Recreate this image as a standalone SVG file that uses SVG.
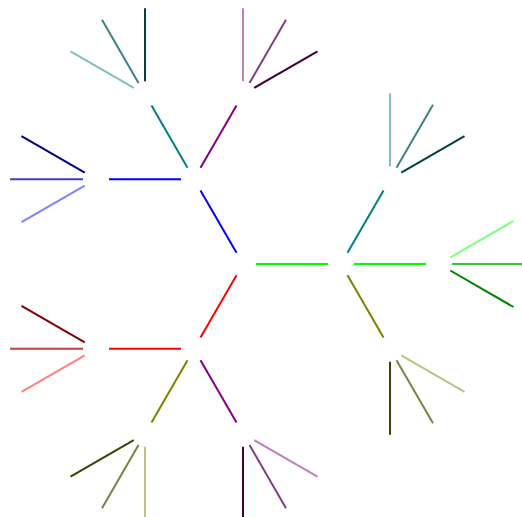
<svg xmlns="http://www.w3.org/2000/svg" width="522" height="517" viewBox="0 0 522 517">
<style>
line{stroke-width:2;fill:none;stroke-linecap:butt}
.lime{stroke:#00ff00}.blue{stroke:#0000ff}.red{stroke:#ff0000}
.teal{stroke:#008080}.purple{stroke:#800080}.olive{stroke:#808000}
.bd{stroke:#000080}.bm{stroke:#4040c0}.bl{stroke:#8080ff}
.td{stroke:#004040}.tm{stroke:#408080}.tl{stroke:#80c0c0}
.pd{stroke:#400040}.pm{stroke:#804080}.pl{stroke:#c080c0}
.gd{stroke:#008000}.gm{stroke:#40c040}.gl{stroke:#80ff80}
.od{stroke:#404000}.om{stroke:#808040}.ol{stroke:#c0c080}
.rd{stroke:#800000}.rm{stroke:#c04040}.rl{stroke:#ff8080}
</style>
<rect width="522" height="517" fill="#ffffff"/>
<g id="connectors">
<g id="root-edges">
<line class="blue" x1="236.5" y1="252.74" x2="200.5" y2="190.39"/>
<line class="lime" x1="256" y1="264" x2="328" y2="264"/>
<line class="red" x1="236.5" y1="275.26" x2="200.5" y2="337.61"/>
</g>
<g id="a-edges">
<line class="blue" x1="181" y1="179.13" x2="109" y2="179.13"/>
<line class="teal" x1="187.5" y1="167.87" x2="151.5" y2="105.52"/>
<line class="purple" x1="200.5" y1="167.87" x2="236.5" y2="105.52"/>
</g>
<g id="b-edges">
<line class="teal" x1="347.5" y1="252.74" x2="383.5" y2="190.39"/>
<line class="lime" x1="354" y1="264" x2="426" y2="264"/>
<line class="olive" x1="347.5" y1="275.26" x2="383.5" y2="337.61"/>
</g>
<g id="c-edges">
<line class="red" x1="181" y1="348.87" x2="109" y2="348.87"/>
<line class="olive" x1="187.5" y1="360.13" x2="151.5" y2="422.48"/>
<line class="purple" x1="200.5" y1="360.13" x2="236.5" y2="422.48"/>
</g>
<g id="leaves-a1">
<line class="bd" x1="84.74" y1="172.63" x2="21.52" y2="136.13"/>
<line class="bm" x1="83" y1="179.13" x2="10" y2="179.13"/>
<line class="bl" x1="84.74" y1="185.63" x2="21.52" y2="222.13"/>
</g>
<g id="leaves-a2">
<line class="tl" x1="133.74" y1="87.76" x2="70.52" y2="51.26"/>
<line class="tm" x1="138.5" y1="83" x2="102" y2="19.78"/>
<line class="td" x1="145" y1="81.26" x2="145" y2="8.26"/>
</g>
<g id="leaves-a3">
<line class="pl" x1="243" y1="81.26" x2="243" y2="8.26"/>
<line class="pm" x1="249.5" y1="83" x2="286" y2="19.78"/>
<line class="pd" x1="254.26" y1="87.76" x2="317.48" y2="51.26"/>
</g>
<g id="leaves-b1">
<line class="tl" x1="390" y1="166.13" x2="390" y2="93.13"/>
<line class="tm" x1="396.5" y1="167.87" x2="433" y2="104.65"/>
<line class="td" x1="401.26" y1="172.63" x2="464.48" y2="136.13"/>
</g>
<g id="leaves-b2">
<line class="gl" x1="450.26" y1="257.5" x2="513.48" y2="221"/>
<line class="gm" x1="452" y1="264" x2="525" y2="264"/>
<line class="gd" x1="450.26" y1="270.5" x2="513.48" y2="307"/>
</g>
<g id="leaves-b3">
<line class="ol" x1="401.26" y1="355.37" x2="464.48" y2="391.87"/>
<line class="om" x1="396.5" y1="360.13" x2="433" y2="423.35"/>
<line class="od" x1="390" y1="361.87" x2="390" y2="434.87"/>
</g>
<g id="leaves-c1">
<line class="rd" x1="84.74" y1="342.37" x2="21.52" y2="305.87"/>
<line class="rm" x1="83" y1="348.87" x2="10" y2="348.87"/>
<line class="rl" x1="84.74" y1="355.37" x2="21.52" y2="391.87"/>
</g>
<g id="leaves-c2">
<line class="od" x1="133.74" y1="440.24" x2="70.52" y2="476.74"/>
<line class="om" x1="138.5" y1="445" x2="102" y2="508.22"/>
<line class="ol" x1="145" y1="446.74" x2="145" y2="519.74"/>
</g>
<g id="leaves-c3">
<line class="pd" x1="243" y1="446.74" x2="243" y2="519.74"/>
<line class="pm" x1="249.5" y1="445" x2="286" y2="508.22"/>
<line class="pl" x1="254.26" y1="440.24" x2="317.48" y2="476.74"/>
</g>
</g>
</svg>
